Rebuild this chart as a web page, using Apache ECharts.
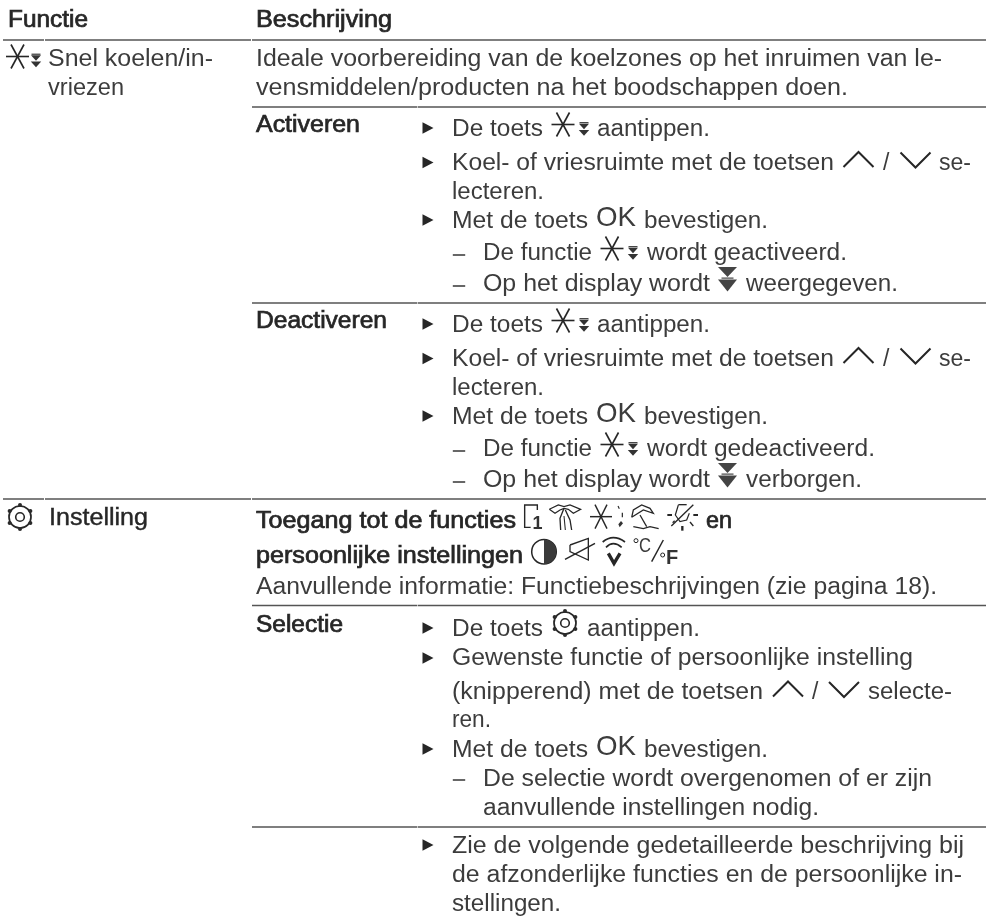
<!DOCTYPE html>
<html><head><meta charset="utf-8">
<style>html,body{margin:0;padding:0;background:#fff}#c{width:990px;height:917px}</style>
<script src="https://cdn.jsdelivr.net/npm/echarts@6/dist/echarts.min.js"></script>
</head><body><div id="c"></div>
<script>
// ---- content ----
const headers = ['Functie', 'Beschrijving'];
const functionNames = ['Snel koelen/in-', 'vriezen', 'Instelling'];
const actions = ['Activeren', 'Deactiveren', 'Selectie'];
const intro = ['Ideale voorbereiding van de koelzones op het inruimen van le-',
  'vensmiddelen/producten na het boodschappen doen.'];
const stepsCommon = ['De toets', 'aantippen.', 'Koel- of vriesruimte met de toetsen', '/', 'se-', 'lecteren.',
  'Met de toets', 'OK', 'bevestigen.', 'De functie', 'Op het display wordt'];
const activeEnds = ['wordt geactiveerd.', 'weergegeven.'];
const deactiveEnds = ['wordt gedeactiveerd.', 'verborgen.'];
const accessText = ['Toegang tot de functies', 'en', 'persoonlijke instellingen'];
const accessNote = ['Aanvullende informatie: Functiebeschrijvingen (zie pagina 18).'];
const selectSteps = ['Gewenste functie of persoonlijke instelling', '(knipperend) met de toetsen', 'selecte-', 'ren.',
  'De selectie wordt overgenomen of er zijn', 'aanvullende instellingen nodig.'];
const closing = ['Zie de volgende gedetailleerde beschrijving bij', 'de afzonderlijke functies en de persoonlijke in-', 'stellingen.'];
const unitIcon = ['C', 'F', '1'];

// ---- styles ----
const FONT = '"Liberation Sans"';
const FS = 23;
const BODY = '#3c3c3c', DARK = '#262626', RULE = '#555555';
const measure = document.createElement('canvas').getContext('2d');
const els = [];

function text(str, x, base, end, opt) {
  opt = opt || {};
  const fs = opt.fs || FS;
  measure.font = (opt.bold ? 'bold ' : '') + fs + 'px ' + FONT;
  const w = measure.measureText(str).width;
  const sx = end ? (end - x) / w : 1;
  els.push({ type: 'text', x: x, y: base - 0.33 * fs, scaleX: sx, silent: true,
    style: { text: str, x: 0, y: 0, fontFamily: FONT, fontSize: fs, fontWeight: opt.bold ? 'bold' : 'normal', fill: opt.c || BODY,
      verticalAlign: 'middle', align: 'left', stroke: opt.sw ? (opt.c || BODY) : null, lineWidth: opt.sw || 0 } });
}
const strong = { c: DARK, sw: 0.7 };
function rule(x1, x2, y) {
  els.push({ type: 'line', silent: true, shape: { x1, y1: y, x2, y2: y }, style: { stroke: RULE, lineWidth: 1.3 } });
}
function line(pts, sw, c, smooth) {
  return { type: 'polyline', shape: { points: pts, smooth: smooth || 0 }, style: { fill: null, stroke: c || DARK, lineWidth: sw || 1.5 } };
}
function tri(pts, c) { return { type: 'polygon', shape: { points: pts }, style: { fill: c || DARK } }; }
function circ(cx, cy, r, sw, fill) {
  return { type: 'circle', shape: { cx, cy, r }, style: fill ? { fill } : { fill: null, stroke: DARK, lineWidth: sw } };
}
function group(x, y, children, s) { els.push({ type: 'group', x, y, scaleX: s || 1, scaleY: s || 1, silent: true, children }); }

function snow(x, y) {
  group(x, y, [line([[-11.5, 0], [11.5, 0]], 1.6), line([[-6.5, -12], [6.5, 12]], 1.6), line([[6.5, -12], [-6.5, 12]], 1.6)]);
}
function arrows(x, y) {
  group(x, y, [line([[-4.5, -6.3], [4.5, -6.3]], 1.1),
    tri([[-5, -5.2], [5, -5.2], [0, 0.2]], '#333'), tri([[-5.2, 1], [5.2, 1], [0, 6.8]], '#333')]);
}
function bigArrows(x, y) {
  group(x, y, [tri([[-9.5, -12.5], [9.5, -12.5], [0, -2.5]], '#444'), tri([[-9.5, 0], [9.5, 0], [0, 12]], '#444'),
    line([[-6, -1.4], [6, -1.4]], 1.2, '#444')]);
}
function caretUp(x, y) { group(x, y, [line([[-15, 7.5], [0, -7.5], [15, 7.5]], 2)]); }
function caretDown(x, y) { group(x, y, [line([[-15, -7.5], [0, 7.5], [15, -7.5]], 2)]); }
function bullet(y) { group(428, y, [tri([[-5.5, -5.8], [5.5, 0], [-5.5, 5.8]], DARK)]); }
function dash(y) { group(459, y, [line([[-6.2, 0], [6.2, 0]], 1.4)]); }
function gear(x, y) {
  const kids = [circ(0, 0, 11, 1.7), circ(0, 0, 4.3, 1.6)];
  for (let a = 0; a < 6; a++) {
    const t = a * Math.PI / 3;
    kids.push(circ(12 * Math.sin(t), -12 * Math.cos(t), 2, 0, '#2a2a2a'));
  }
  group(x, y, kids);
}

// ---- rules ----
[[40, 3, 44], [40, 45, 251], [40, 252, 986], [499, 3, 44], [499, 45, 251], [499, 252, 986]].forEach(r => rule(r[1], r[2], r[0]));
[107, 303, 605.5, 827].forEach(y => { rule(252, 417, y); rule(417.6, 986, y); });

// ---- header + row 1 ----
text(headers[0], 8, 28.5, 88, strong);
text(headers[1], 256, 28.5, 392, strong);
snow(17.5, 56.5); arrows(36, 60.5);
text(functionNames[0], 48, 67, 213);
text(functionNames[1], 48, 96, 124);
text(intro[0], 256, 67, 942);
text(intro[1], 256, 96, 848);

// ---- activate / deactivate blocks ----
function block(dy, label, labelEnd, ends, endXs) {
  text(label, 256, 133.5 + dy, labelEnd, strong);
  bullet(128 + dy);
  text(stepsCommon[0], 452, 137 + dy, 543);
  snow(563, 124.5 + dy); arrows(584, 129 + dy);
  text(stepsCommon[1], 597, 137 + dy, 710);
  bullet(162.5 + dy);
  text(stepsCommon[2], 452, 171 + dy, 834);
  caretUp(858.5, 159.5 + dy);
  text(stepsCommon[3], 883, 171 + dy);
  caretDown(915.5, 160 + dy);
  text(stepsCommon[4], 939, 171 + dy, 971);
  text(stepsCommon[5], 452, 200 + dy, 544);
  bullet(220 + dy);
  text(stepsCommon[6], 452, 229 + dy, 588);
  text(stepsCommon[7], 596, 228 + dy, 636, { fs: 28 });
  text(stepsCommon[8], 644, 229 + dy, 768);
  dash(255 + dy);
  text(stepsCommon[9], 483, 261 + dy, 592);
  snow(612, 248.5 + dy); arrows(633, 253 + dy);
  text(ends[0], 647, 261 + dy, endXs[0]);
  dash(286 + dy);
  text(stepsCommon[10], 483, 292 + dy, 710);
  bigArrows(727.5, 279.5 + dy);
  text(ends[1], 746, 292 + dy, endXs[1]);
}
block(0, actions[0], 360, activeEnds, [847, 898]);
block(196, actions[1], 387, deactiveEnds, [875, 862]);

// ---- settings row ----
gear(20, 517);
text(functionNames[2], 49, 526.5, 148, { c: DARK, sw: 0.4 });
text(accessText[0], 256, 529.5, 516, strong);
// the small icons are drawn in 3x crop units around (520,500) and (600,500)
// memory icon
group(520, 500, [line([[52, 30], [52, 15], [14, 15], [14, 82], [32, 82]], 4.2)], 1 / 3);
text(unitIcon[2], 532.5, 530, null, { bold: true, fs: 18, c: '#333' });
// cloth icon
group(520, 500, [
  line([[88, 28], [115, 15], [132, 20], [150, 15], [182, 28], [160, 40], [145, 28], [132, 25], [120, 30], [105, 40], [88, 28]], 3.6),
  line([[132, 25], [120, 55], [122, 90]], 4), line([[136, 30], [150, 60], [155, 90]], 4), line([[132, 48], [136, 90]], 3.2)], 1 / 3);
// snow + dots
group(600, 500, [line([[-30, 50], [36, 50]], 4.4), line([[-15, 14], [21, 86]], 4.4), line([[21, 14], [-15, 86]], 4.4),
  line([[54, 18], [58, 26]], 3.4), line([[67, 38], [67, 52]], 3.6), tri([[55, 73], [63, 63], [69, 70], [59, 82]], '#333')], 1 / 3);
// umbrella
group(600, 500, [line([[95, 52], [100, 30], [125, 15], [150, 25], [160, 40], [130, 30], [95, 52]], 3.8),
  line([[120, 45], [140, 80]], 3.8), line([[100, 80], [130, 86], [150, 80], [176, 86]], 3.8)], 1 / 3);
// crossed sun
group(600, 500, [line([[202, 45], [216, 45]], 6), line([[280, 45], [294, 45]], 6), line([[247, 78], [247, 92]], 7),
  line([[218, 68], [224, 62]], 4), line([[270, 66], [280, 78]], 4), line([[235, 14], [260, 14]], 4),
  line([[214, 78], [280, 14]], 4), line([[235, 15], [226, 45], [240, 65], [260, 60], [268, 40]], 3.6)], 1 / 3);
text(accessText[1], 706, 529.5, 732, strong);
text(accessText[2], 256, 564.5, 523, strong);
// contrast
group(544, 551.7, [circ(0, 0, 12.3, 1.5), { type: 'sector', shape: { cx: 0, cy: 0, r: 12.3, startAngle: -Math.PI / 2, endAngle: Math.PI / 2 }, style: { fill: '#3a3a3a' } }]);
// speaker off
group(520, 500, [line([[150, 135], [205, 115], [205, 180], [150, 155], [150, 135]], 4), line([[135, 178], [225, 130]], 4.4)], 1 / 3);
// wifi v
group(600, 500, [line([[8, 126], [40, 113], [75, 126]], 5, DARK, 0.5), line([[18, 142], [40, 131], [65, 142]], 5, DARK, 0.5),
  line([[25, 160], [42, 190], [60, 160]], 10)], 1 / 3);
// deg C / deg F
group(600, 500, [circ(108, 122, 6, 3), line([[190, 120], [155, 185]], 4.4), circ(188, 165, 6, 3)], 1 / 3);
text(unitIcon[0], 639, 553.5, 651, { fs: 21 });
text(unitIcon[1], 666, 565, null, { fs: 20, bold: true, c: '#333' });
text(accessNote[0], 256, 595, 937);

// ---- selection block ----
text(actions[2], 256, 633.5, 343, strong);
bullet(628);
text(stepsCommon[0], 452, 637, 543);
gear(565, 623);
text(stepsCommon[1], 587, 637, 700);
bullet(658);
text(selectSteps[0], 452, 666, 913);
text(selectSteps[1], 452, 700, 763);
caretUp(788, 689);
text(stepsCommon[3], 812, 700);
caretDown(844, 689.5);
text(selectSteps[2], 868, 700, 952);
text(selectSteps[3], 452, 728, 491);
bullet(749);
text(stepsCommon[6], 452, 758, 588);
text(stepsCommon[7], 596, 757, 636, { fs: 28 });
text(stepsCommon[8], 644, 758, 768);
dash(780);
text(selectSteps[4], 483, 787, 932);
text(selectSteps[5], 483, 816, 819);

// ---- closing ----
bullet(845);
text(closing[0], 452, 854, 964);
text(closing[1], 452, 883, 962);
text(closing[2], 452, 912, 561);

const chart = echarts.init(document.getElementById('c'), null, { renderer: 'canvas' });
chart.setOption({ animation: false, backgroundColor: '#ffffff', graphic: { elements: els } });
</script></body></html>
